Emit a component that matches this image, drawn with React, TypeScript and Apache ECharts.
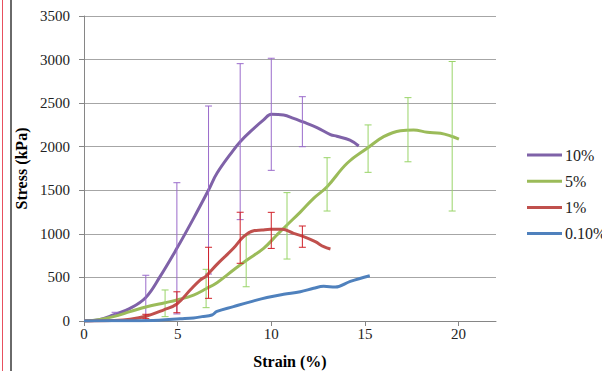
import React, { useEffect, useRef } from "react";
import * as echarts from "echarts";

// strain (%) vs stress (kPa)
const seriesNames = ["10%", "5%", "1%", "0.10%"];
const lineColors = ["#7F62A8", "#9BBB59", "#C0504D", "#4F81BD"];
const errColors = ["#9A6BCB", "#99D468", "#D0222A", "#4F81BD"];

const curve10: [number, number][] = [
  [0, 0], [0.8, 15], [1.57, 69], [2.46, 145], [3.3, 270], [4.06, 509], [4.96, 834],
  [5.85, 1178], [6.65, 1503], [7.1, 1695], [7.98, 1962], [8.34, 2058], [8.88, 2173],
  [9.59, 2307], [10.0, 2372], [10.66, 2364], [11.19, 2326], [11.66, 2287], [12.44, 2220],
  [13.16, 2140], [13.5, 2120], [14.2, 2075], [14.67, 2008],
];
const curve5: [number, number][] = [
  [0, 0], [0.8, 15], [1.57, 50], [2.46, 107], [3.35, 164], [4.33, 210], [4.96, 241],
  [5.85, 298], [6.52, 370], [7.1, 440], [7.98, 585], [8.7, 700], [9.59, 834], [10.3, 987],
  [10.84, 1102], [11.55, 1250], [12.26, 1408], [12.98, 1541], [14.05, 1810], [15.12, 1982],
  [16.0, 2115], [16.9, 2184], [17.6, 2192], [18.33, 2165], [19.04, 2154], [20.02, 2088],
];
const curve1: [number, number][] = [
  [0, 0], [1.5, 5], [2.46, 19], [3.35, 57], [4.24, 126], [4.96, 195], [5.67, 356],
  [6.2, 470], [6.52, 516], [7.1, 650], [7.98, 834], [8.52, 968], [9.06, 1036], [9.5, 1044],
  [9.95, 1052], [10.57, 1052], [11.19, 1006], [11.73, 968], [12.35, 910], [12.8, 853],
  [13.16, 826],
];
const curve01: [number, number][] = [
  [0, 0], [2, 3], [4, 10], [5.13, 25], [5.85, 35], [6.3, 50], [6.83, 69], [7.1, 110],
  [7.98, 165], [8.88, 220], [9.77, 270], [10.66, 306], [11.55, 335], [12.26, 375],
  [12.8, 398], [13.42, 390], [14.22, 455], [15.26, 520],
];

// [strain, mean, error]
const err10: [number, number, number][] = [
  [1.66, 80, 20], [3.3, 260, 265], [4.96, 834, 753], [6.65, 1503, 964],
  [8.34, 2058, 895], [10.0, 2372, 643], [11.66, 2287, 287],
];
const err5: [number, number, number][] = [
  [4.33, 203, 153], [6.52, 373, 220], [8.66, 690, 297], [10.84, 1092, 381],
  [12.98, 1568, 306], [15.17, 1978, 272], [17.3, 2195, 368], [19.66, 2120, 858],
];
const err1: [number, number, number][] = [
  [3.3, 52, 25], [4.96, 215, 120], [6.65, 553, 293], [8.34, 955, 293],
  [10.0, 1040, 207], [11.66, 968, 122],
];

const xTicks = { min: 0, max: 22, interval: 5 };
const yTicks = { min: 0, max: 3500, interval: 500 };

const curves = [curve10, curve5, curve1, curve01];
const errs = [err10, err5, err1, []];

const FONT = "'Times New Roman', 'Liberation Serif', 'DejaVu Serif', serif";

export default function App() {
  const ref = useRef<HTMLDivElement>(null);
  useEffect(() => {
    const chart = echarts.init(ref.current!, null, { renderer: "svg" });

    const errRender = (params: any, api: any) => {
      const x = api.value(0);
      const lo = api.value(1);
      const hi = api.value(2);
      const pLo = api.coord([x, Math.max(lo, 0)]);
      const pHi = api.coord([x, hi]);
      const half = 3.5;
      const style = { stroke: api.visual("color"), lineWidth: 1 };
      const children: any[] = [
        { type: "line", shape: { x1: pLo[0], y1: pLo[1], x2: pHi[0], y2: pHi[1] }, style },
        { type: "line", shape: { x1: pHi[0] - half, y1: pHi[1], x2: pHi[0] + half, y2: pHi[1] }, style },
      ];
      if (lo >= 0) {
        children.push({ type: "line", shape: { x1: pLo[0] - half, y1: pLo[1], x2: pLo[0] + half, y2: pLo[1] }, style });
      }
      return { type: "group", children };
    };

    const series: any[] = [];
    seriesNames.forEach((name, i) => {
      series.push({
        name,
        type: "line",
        data: curves[i],
        showSymbol: false,
        symbol: "none",
        smooth: 0.4,
        lineStyle: { color: lineColors[i], width: 3 },
        itemStyle: { color: lineColors[i] },
        z: 2 + i * 2,
      });
      if (errs[i].length) {
        series.push({
          type: "custom",
          name: name + " err",
          renderItem: errRender,
          itemStyle: { color: errColors[i] },
          data: errs[i].map(([x, m, e]) => [x, m - e, m + e]),
          encode: { x: 0, y: [1, 2] },
          z: 3 + i * 2,
          silent: true,
        });
      }
    });

    chart.setOption({
      animation: false,
      backgroundColor: "#ffffff",
      textStyle: { fontFamily: FONT },
      grid: { left: 84, right: 106, top: 16, bottom: 50, containLabel: false, outerBoundsMode: "none" },
      xAxis: {
        type: "value",
        min: xTicks.min,
        max: xTicks.max,
        interval: xTicks.interval,
        name: "Strain (%)",
        nameLocation: "middle",
        nameGap: 32,
        nameTextStyle: { fontFamily: FONT, fontWeight: "bold", fontSize: 16, color: "#000" },
        axisLine: { show: true, lineStyle: { color: "#868686", width: 1 } },
        axisTick: { show: true, inside: false, length: 5, lineStyle: { color: "#868686" } },
        axisLabel: { fontFamily: FONT, fontSize: 15, color: "#222", margin: 5, showMaxLabel: false },
        splitLine: { show: false },
      },
      yAxis: {
        type: "value",
        min: yTicks.min,
        max: yTicks.max,
        interval: yTicks.interval,
        name: "Stress (kPa)",
        nameLocation: "middle",
        nameGap: 52,
        nameTextStyle: { fontFamily: FONT, fontWeight: "bold", fontSize: 16, color: "#000" },
        axisLine: { show: true, lineStyle: { color: "#868686", width: 1 } },
        axisTick: { show: true, inside: false, length: 5, lineStyle: { color: "#868686" } },
        axisLabel: {
          fontFamily: FONT, fontSize: 15, color: "#222", margin: 14,
          formatter: (v: number) => String(v),
        },
        splitLine: { show: true, lineStyle: { color: "#A6A6A6", width: 1 } },
      },
      legend: seriesNames.map((n, i) => ({
        data: [n],
        left: 527,
        top: 147 + i * 26.2,
        orient: "vertical",
        icon: "rect",
        itemWidth: 35,
        itemHeight: 3,
        itemGap: 0,
        padding: 0,
        selectedMode: false,
        textStyle: { fontFamily: FONT, fontSize: 16, color: "#222", padding: [0, 0, 0, -2] },
      })),
      graphic: [
        { type: "line", shape: { x1: 2.5, y1: 0, x2: 2.5, y2: 371 }, style: { stroke: "#E8505E", lineWidth: 1 } },
        { type: "line", shape: { x1: 11, y1: 0, x2: 11, y2: 371 }, style: { stroke: "#6A6A6A", lineWidth: 2 } },
      ],
      series,
    });
    return () => chart.dispose();
  }, []);
  return <div ref={ref} style={{ position: "fixed", left: 0, top: 0, width: 602, height: 371 }} />;
}
